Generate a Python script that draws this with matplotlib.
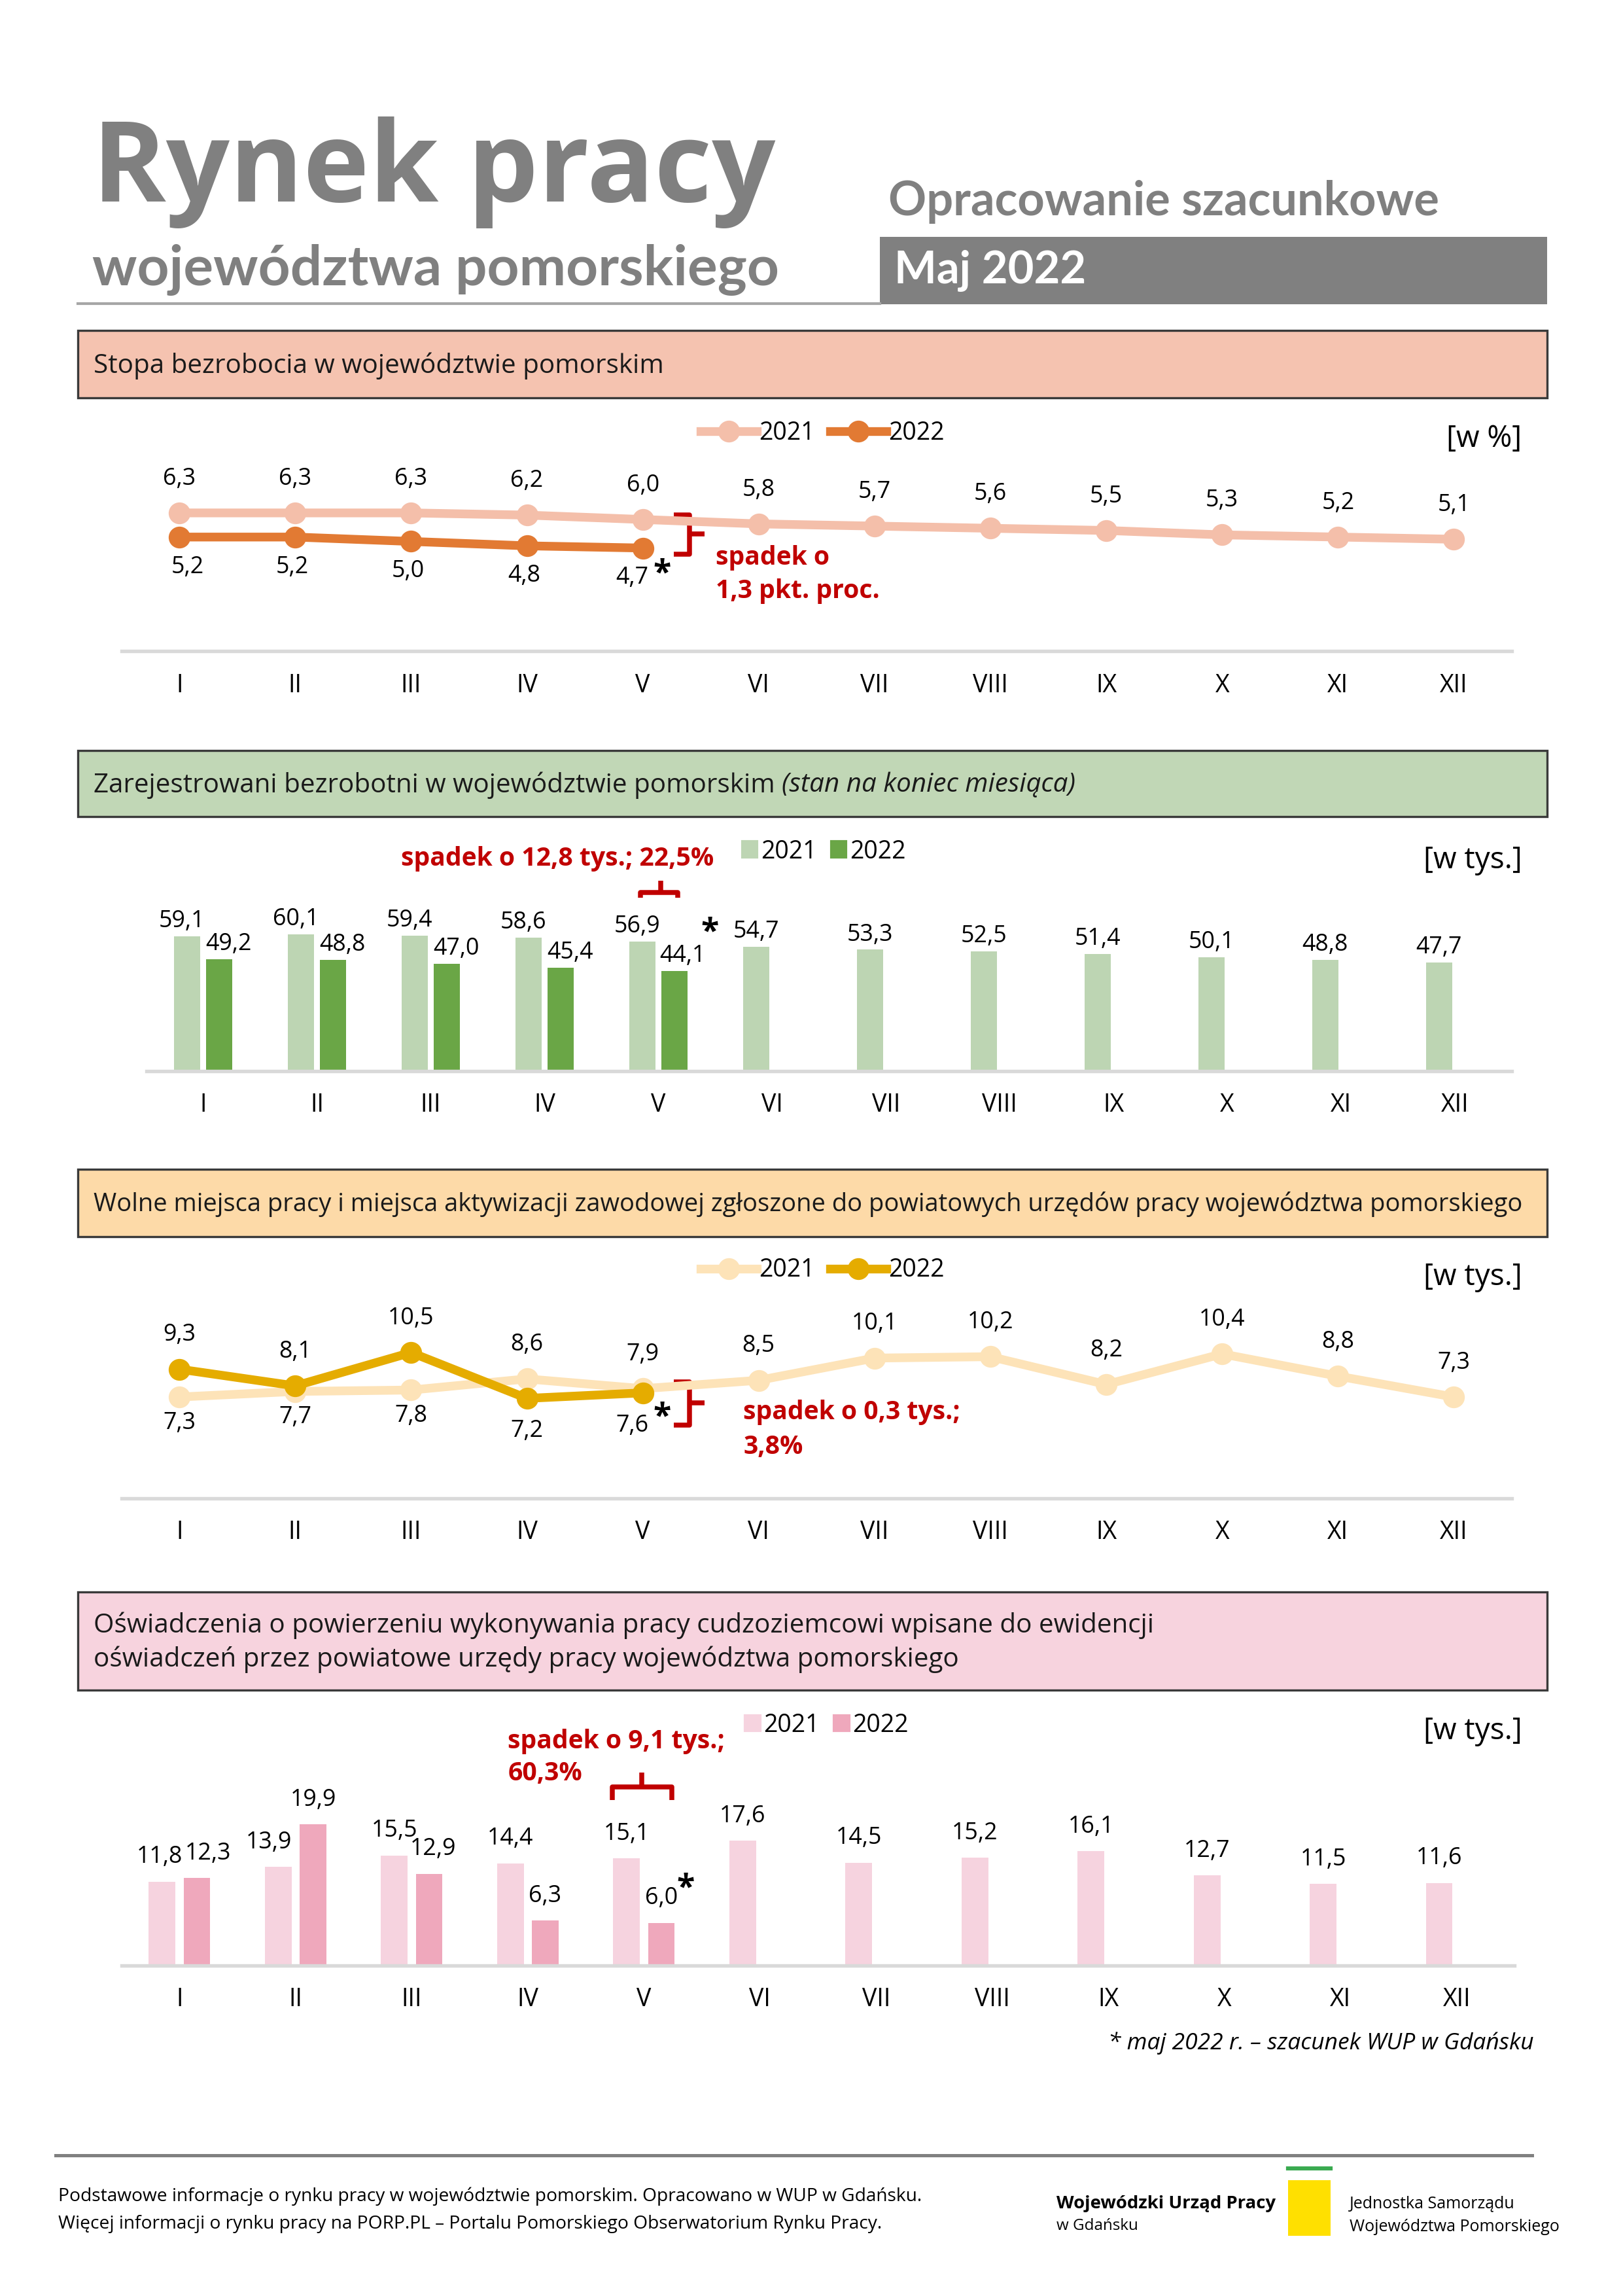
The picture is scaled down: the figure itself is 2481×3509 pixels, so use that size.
import matplotlib
matplotlib.use('Agg')
import matplotlib.pyplot as plt
from matplotlib.patches import Rectangle
from matplotlib.lines import Line2D

plt.rcParams['font.family'] = ['Open Sans', 'DejaVu Sans']

# data
months = ['I', 'II', 'III', 'IV', 'V', 'VI', 'VII', 'VIII', 'IX', 'X', 'XI', 'XII']
stopa_2021 = [6.3, 6.3, 6.3, 6.2, 6.0, 5.8, 5.7, 5.6, 5.5, 5.3, 5.2, 5.1]
stopa_2022 = [5.2, 5.2, 5.0, 4.8, 4.7]
bezrob_2021 = [59.1, 60.1, 59.4, 58.6, 56.9, 54.7, 53.3, 52.5, 51.4, 50.1, 48.8, 47.7]
bezrob_2022 = [49.2, 48.8, 47.0, 45.4, 44.1]
oferty_2021 = [7.3, 7.7, 7.8, 8.6, 7.9, 8.5, 10.1, 10.2, 8.2, 10.4, 8.8, 7.3]
oferty_2022 = [9.3, 8.1, 10.5, 7.2, 7.6]
oswiad_2021 = [11.8, 13.9, 15.5, 14.4, 15.1, 17.6, 14.5, 15.2, 16.1, 12.7, 11.5, 11.6]
oswiad_2022 = [12.3, 19.9, 12.9, 6.3, 6.0]

RED = '#C00000'
GRAY = '#808080'
LBL = 8.6

fig = plt.figure(figsize=(2481 / 300, 3509 / 300), dpi=300)

# layout measured on a reduced view of the page
VW, VH = 1109, 1569

def fx(x):
    return x / VW

def fy(y):
    return 1 - y / VH

def ftext(x, y, s, **kw):
    kw.setdefault('va', 'center')
    kw.setdefault('ha', 'left')
    return fig.text(fx(x), fy(y), s, transform=fig.transFigure, **kw)

def fmt(v):
    return f'{v:.1f}'.replace('.', ',')

def make_axes(x0, x1, ybottom, ytop):
    ax = fig.add_axes([fx(x0), fy(ybottom), fx(x1) - fx(x0), fy(ytop) - fy(ybottom)])
    ax.set_facecolor('none')
    for s in ['top', 'right', 'left']:
        ax.spines[s].set_visible(False)
    ax.spines['bottom'].set_color('#D9D9D9')
    ax.spines['bottom'].set_linewidth(1.3)
    ax.set_yticks([])
    ax.set_xlim(-0.5, 11.5)
    ax.set_xticks(range(12))
    ax.set_xticklabels(months, fontsize=9)
    ax.tick_params(axis='x', length=0, pad=8)
    return ax

def header(y0, y1, color, lines, size=9.7):
    fig.patches.append(Rectangle((fx(53), fy(y1)), fx(1057) - fx(53), fy(y0) - fy(y1),
                                 transform=fig.transFigure, facecolor=color,
                                 edgecolor='#3A3A3A', linewidth=0.8))
    n = len(lines)
    for i, parts in enumerate(lines):
        yc = (y0 + y1) / 2 + 1 + (i - (n - 1) / 2) * 23
        x = 64
        for s, style in parts:
            t = ftext(x, yc, s, fontsize=size, style=style, color='#1a1a1a')
            fig.canvas.draw()
            bb = t.get_window_extent()
            x += bb.width / fig.bbox.width * VW

def vbrace(ax, x, x_hook, x_nub, y0, y1, ymid):
    kw = dict(color=RED, lw=1.8, solid_capstyle='butt', solid_joinstyle='round', clip_on=False)
    ax.plot([x_hook, x, x, x_hook], [y1, y1, y0, y0], **kw)
    ax.plot([x, x_nub], [ymid, ymid], **kw)

def hbrace(ax, x0, x1, xmid, y, y_hook, y_nub):
    kw = dict(color=RED, lw=1.8, solid_capstyle='butt', solid_joinstyle='round', clip_on=False)
    ax.plot([x0, x0, x1, x1], [y_hook, y, y, y_hook], **kw)
    ax.plot([xmid, xmid], [y, y_nub], **kw)

def legend(ax, handles, xc, yc, hl=2.3):
    ax.legend(handles=handles, loc='center', bbox_to_anchor=(fx(xc), fy(yc)),
              bbox_transform=fig.transFigure, ncol=2, frameon=False, fontsize=9,
              handlelength=hl, handleheight=0.6, handletextpad=0.15 if hl < 1 else 0.1,
              columnspacing=0.6)

# ---- page title ----
ftext(63, 118, 'Rynek pracy', fontsize=41, fontweight='bold', color=GRAY)
ftext(63, 184, 'województwa pomorskiego', fontsize=20.5, fontweight='bold', color=GRAY,
      family=['Lato', 'DejaVu Sans'])
fig.add_artist(Line2D([fx(53), fx(601)], [fy(207.5), fy(207.5)], color='#A6A6A6', lw=1.0,
                      transform=fig.transFigure))
ftext(607, 138, 'Opracowanie szacunkowe', fontsize=17.3, fontweight='bold', color=GRAY,
      family=['Lato', 'DejaVu Sans'])
fig.patches.append(Rectangle((fx(601), fy(208)), fx(1057) - fx(601), fy(162) - fy(208),
                             transform=fig.transFigure, facecolor=GRAY, edgecolor='none'))
ftext(611, 185, 'Maj 2022', fontsize=16.5, fontweight='bold', color='white',
      family=['Lato', 'DejaVu Sans'])

# ---- 1. unemployment rate ----
header(226, 272, '#F5C3B0', [[('Stopa bezrobocia w województwie pomorskim', 'normal')]])
c21, c22 = '#F4BFAA', '#E27A33'
ax1 = make_axes(83, 1033, 445, 325)
ax1.set_ylim(0, 8)
ax1.plot(range(12), stopa_2021, color=c21, lw=3.2, marker='o', ms=7, clip_on=False, zorder=3)
ax1.plot(range(5), stopa_2022, color=c22, lw=3.2, marker='o', ms=7, clip_on=False, zorder=4)
for i, v in enumerate(stopa_2021):
    ax1.annotate(fmt(v), (i, v), xytext=(0, 12.5), textcoords='offset points',
                 ha='center', va='center', fontsize=LBL)
for i, v in enumerate(stopa_2022):
    dx = 3 if i == 0 else (-4 if i == 4 else -1)
    ax1.annotate(fmt(v), (i, v), xytext=(dx, -11), textcoords='offset points',
                 ha='center', va='center', fontsize=LBL)
ax1.annotate('*', (4, stopa_2022[4]), xytext=(7, -9.5), textcoords='offset points',
             ha='center', va='center', fontsize=12, fontweight='bold')
vbrace(ax1, 4.40, 4.27, 4.53, 4.42, 6.21, 5.35)
ftext(489, 381, 'spadek o', fontsize=9.4, fontweight='bold', color=RED)
ftext(489, 404, '1,3 pkt. proc.', fontsize=9.4, fontweight='bold', color=RED)
ftext(1040, 300, '[w %]', fontsize=11, ha='right')
legend(ax1, [Line2D([], [], color=c21, lw=3.2, marker='o', ms=7, label='2021'),
             Line2D([], [], color=c22, lw=3.2, marker='o', ms=7, label='2022')], 562, 296)

# ---- 2. registered unemployed ----
header(513, 558, '#C1D7B6', [[('Zarejestrowani bezrobotni w województwie pomorskim ', 'normal'),
                               ('(stan na koniec miesiąca)', 'italic')]])
g21, g22 = '#BDD5B3', '#6AA646'
ax2 = make_axes(100, 1033, 732, 623)
ax2.set_ylim(0, 70)
w = 0.23
ax2.bar([i - 0.14 for i in range(12)], bezrob_2021, width=w, color=g21, zorder=2)
ax2.bar([i + 0.14 for i in range(5)], bezrob_2022, width=w, color=g22, zorder=2)
for i, v in enumerate(bezrob_2021):
    ax2.annotate(fmt(v), (i - 0.14, v), xytext=(-2 if i < 5 else 0, 5.5), textcoords='offset points',
                 ha='center', va='center', fontsize=LBL)
for i, v in enumerate(bezrob_2022):
    ax2.annotate(fmt(v), (i + 0.14, v), xytext=(3 if i == 4 else 3.5, 5.5), textcoords='offset points',
                 ha='center', va='center', fontsize=LBL)
ax2.annotate('*', (4.14, bezrob_2022[4]), xytext=(13, 14), textcoords='offset points',
             ha='center', va='center', fontsize=12, fontweight='bold')
hbrace(ax2, 3.84, 4.17, 4.02, 78.5, 76.0, 83.5)
ftext(274, 587, 'spadek o 12,8 tys.; 22,5%', fontsize=9.4, fontweight='bold', color=RED)
ftext(1040, 588, '[w tys.]', fontsize=11, ha='right')
legend(ax2, [Rectangle((0, 0), 1, 1, color=g21, label='2021'),
             Rectangle((0, 0), 1, 1, color=g22, label='2022')], 563, 582, hl=0.6)

# ---- 3. job offers ----
header(799, 845, '#FDDAA8', [[('Wolne miejsca pracy i miejsca aktywizacji zawodowej zgłoszone do '
                               'powiatowych urzędów pracy województwa pomorskiego', 'normal')]], size=9.15)
o21, o22 = '#FDE3B8', '#E5AC00'
ax3 = make_axes(83, 1033, 1024, 910)
ax3.set_ylim(0, 12)
ax3.plot(range(12), oferty_2021, color=o21, lw=3.2, marker='o', ms=7, clip_on=False, zorder=3)
ax3.plot(range(5), oferty_2022, color=o22, lw=3.2, marker='o', ms=7, clip_on=False, zorder=4)
for i, v in enumerate(oferty_2021):
    dy = -9.5 if i < 3 else 12.5
    ax3.annotate(fmt(v), (i, v), xytext=(0, dy), textcoords='offset points',
                 ha='center', va='center', fontsize=LBL)
for i, v in enumerate(oferty_2022):
    dy = 12.5 if i < 3 else -12
    ax3.annotate(fmt(v), (i, v), xytext=(-4 if i == 4 else 0, dy), textcoords='offset points',
                 ha='center', va='center', fontsize=LBL)
ax3.annotate('*', (4, oferty_2022[4]), xytext=(7, -9), textcoords='offset points',
             ha='center', va='center', fontsize=12, fontweight='bold')
vbrace(ax3, 4.40, 4.27, 4.53, 5.3, 8.4, 6.9)
ftext(508, 965, 'spadek o 0,3 tys.;', fontsize=9.4, fontweight='bold', color=RED)
ftext(508, 989, '3,8%', fontsize=9.4, fontweight='bold', color=RED)
ftext(1040, 873, '[w tys.]', fontsize=11, ha='right')
legend(ax3, [Line2D([], [], color=o21, lw=3.2, marker='o', ms=7, label='2021'),
             Line2D([], [], color=o22, lw=3.2, marker='o', ms=7, label='2022')], 562, 868)

# ---- 4. declarations for foreigners ----
header(1088, 1155, '#F7D3DE', [[('Oświadczenia o powierzeniu wykonywania pracy cudzoziemcowi wpisane do ewidencji', 'normal')],
                               [('oświadczeń przez powiatowe urzędy pracy województwa pomorskiego', 'normal')]])
p21, p22 = '#F6D3DF', '#EFA8BC'
ax4 = make_axes(83, 1035, 1343, 1222)
ax4.set_ylim(0, 25)
ax4.bar([i - 0.15 for i in range(12)], oswiad_2021, width=w, color=p21, zorder=2)
ax4.bar([i + 0.15 for i in range(5)], oswiad_2022, width=w, color=p22, zorder=2)
shift_21 = [-1, -3.5, 0, 0, 0, 0, 0, 0, 0, 0, 0, 0]
shift_22 = [4, 0, 1.5, 0, 0]
for i, v in enumerate(oswiad_2021):
    ax4.annotate(fmt(v), (i - 0.15, v), xytext=(shift_21[i], 9), textcoords='offset points',
                 ha='center', va='center', fontsize=LBL)
for i, v in enumerate(oswiad_2022):
    ax4.annotate(fmt(v), (i + 0.15, v), xytext=(shift_22[i], 9), textcoords='offset points',
                 ha='center', va='center', fontsize=LBL)
ax4.annotate('*', (4.15, oswiad_2022[4]), xytext=(9, 12.5), textcoords='offset points',
             ha='center', va='center', fontsize=12, fontweight='bold')
hbrace(ax4, 3.73, 4.24, 3.98, 25.2, 23.3, 27.2)
ftext(347, 1190, 'spadek o 9,1 tys.;', fontsize=9.4, fontweight='bold', color=RED)
ftext(347, 1212, '60,3%', fontsize=9.4, fontweight='bold', color=RED)
ftext(1040, 1183, '[w tys.]', fontsize=11, ha='right')
legend(ax4, [Rectangle((0, 0), 1, 1, color=p21, label='2021'),
             Rectangle((0, 0), 1, 1, color=p22, label='2022')], 565, 1179, hl=0.6)

ftext(1048, 1396, '* maj 2022 r. – szacunek WUP w Gdańsku', fontsize=8.5, style='italic', ha='right')

# ---- footer ----
fig.add_artist(Line2D([fx(38), fx(1047)], [fy(1473), fy(1473)], color=GRAY, lw=1.2,
                      transform=fig.transFigure))
ftext(40, 1501, 'Podstawowe informacje o rynku pracy w województwie pomorskim. Opracowano w WUP w Gdańsku.',
      fontsize=6.75)
ftext(40, 1520, 'Więcej informacji o rynku pracy na PORP.PL – Portalu Pomorskiego Obserwatorium Rynku Pracy.',
      fontsize=6.75)
ftext(722, 1506, 'Wojewódzki Urząd Pracy', fontsize=6.6, fontweight='bold')
ftext(722, 1521, 'w Gdańsku', fontsize=5.8)
fig.add_artist(Line2D([fx(880), fx(909)], [fy(1482), fy(1482)], color='#3AAA50', lw=1.5,
                      transform=fig.transFigure))
fig.patches.append(Rectangle((fx(880), fy(1528)), fx(909) - fx(880), fy(1490) - fy(1528),
                             transform=fig.transFigure, facecolor='#FFE000', edgecolor='none'))
ftext(922, 1506, 'Jednostka Samorządu', fontsize=6.0)
ftext(922, 1522, 'Województwa Pomorskiego', fontsize=6.0)

fig.savefig('out.png', dpi=300)
